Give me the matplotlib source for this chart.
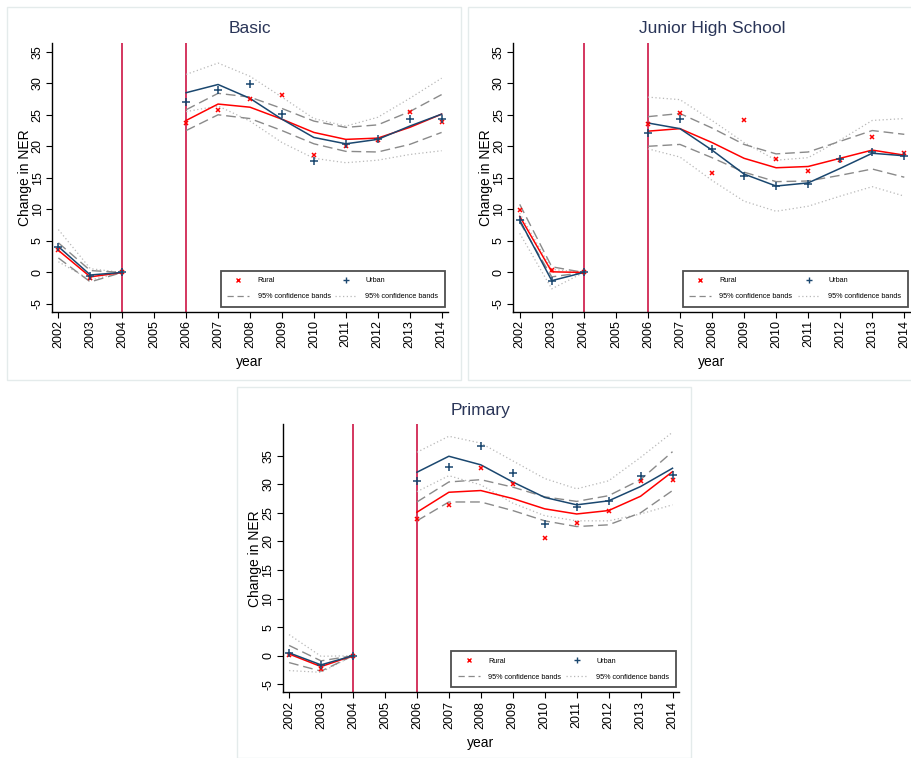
import numpy as np
import matplotlib
matplotlib.use("Agg")
import matplotlib.pyplot as plt
from matplotlib.lines import Line2D
from matplotlib.patches import Rectangle

plt.rcParams['font.family'] = ['Liberation Sans', 'DejaVu Sans']

years = [2002, 2003, 2004, 2005, 2006, 2007, 2008, 2009, 2010, 2011, 2012, 2013, 2014]
nan = np.nan

# ---- Basic ----
basic_rural_fit = [3.5, -0.7, 0, nan, 24.1, 26.7, 26.2, 24.3, 22.2, 21.1, 21.3, 23.0, 25.1]
basic_urban_fit = [4.1, -0.4, 0, nan, 28.5, 29.8, 27.6, 24.3, 21.4, 20.4, 21.1, 23.2, 25.1]
basic_rural_pts = [3.6, -0.95, 0, nan, 23.7, 25.8, 27.5, 28.2, 18.7, 20.1, 21.0, 25.4, 23.9]
basic_urban_pts = [4.0, -0.6, 0, nan, 27.1, 29.0, 29.9, 25.2, 17.6, 20.4, 21.2, 24.3, 24.4]
basic_rural_hi = [4.7, 0.3, 0, nan, 25.8, 28.4, 27.8, 26.0, 24.0, 23.0, 23.4, 25.5, 28.2]
basic_rural_lo = [2.3, -1.5, 0, nan, 22.5, 25.0, 24.4, 22.5, 20.4, 19.2, 19.1, 20.3, 22.2]
basic_urban_hi = [6.8, 0.6, 0, nan, 31.4, 33.2, 31.1, 27.8, 24.4, 23.2, 24.6, 27.6, 30.8]
basic_urban_lo = [1.7, -1.2, 0, nan, 25.5, 26.4, 24.0, 20.6, 18.1, 17.4, 17.8, 18.7, 19.3]

# ---- Junior High School ----
jhs_rural_fit = [8.9, 0.1, 0, nan, 22.4, 22.8, 20.6, 18.1, 16.6, 16.8, 18.1, 19.4, 18.6]
jhs_urban_fit = [8.3, -1.3, 0, nan, 23.7, 22.8, 19.4, 15.6, 13.7, 14.2, 16.5, 18.9, 18.5]
jhs_rural_pts = [9.9, 0.4, 0, nan, 23.6, 25.3, 15.7, 24.1, 18.0, 16.1, 17.8, 21.5, 18.9]
jhs_urban_pts = [8.3, -1.3, 0, nan, 22.1, 24.4, 19.6, 15.3, 13.7, 14.0, 18.0, 19.1, 18.5]
jhs_rural_hi = [10.8, 0.9, 0, nan, 24.7, 25.2, 22.9, 20.3, 18.8, 19.1, 20.8, 22.5, 21.9]
jhs_rural_lo = [8.0, -0.7, 0, nan, 20.0, 20.3, 18.2, 15.9, 14.4, 14.5, 15.4, 16.4, 15.1]
jhs_urban_hi = [9.4, 0.5, 0, nan, 27.8, 27.4, 24.1, 20.6, 17.8, 18.2, 21.0, 24.1, 24.4]
jhs_urban_lo = [6.2, -2.6, 0, nan, 19.6, 18.3, 14.6, 11.3, 9.7, 10.5, 12.1, 13.6, 12.1]

# ---- Primary ----
prim_rural_fit = [0.3, -1.9, 0, nan, 25.1, 28.6, 28.9, 27.5, 25.7, 24.8, 25.4, 27.9, 32.2]
prim_urban_fit = [0.5, -1.6, 0, nan, 32.1, 34.9, 33.4, 30.4, 27.7, 26.4, 27.1, 29.6, 32.8]
prim_rural_pts = [0.2, -2.3, 0, nan, 24.0, 26.3, 32.8, 30.1, 20.6, 23.3, 25.4, 30.5, 30.7]
prim_urban_pts = [0.4, -1.7, 0, nan, 30.6, 33.0, 36.7, 31.9, 23.0, 26.1, 27.0, 31.4, 31.6]
prim_rural_hi = [1.8, -0.9, 0, nan, 26.9, 30.4, 30.8, 29.5, 27.8, 27.0, 28.0, 30.8, 35.7]
prim_rural_lo = [-1.2, -2.7, 0, nan, 23.6, 26.9, 26.9, 25.4, 23.6, 22.6, 22.9, 25.0, 28.9]
prim_urban_hi = [3.7, -0.1, 0, nan, 35.6, 38.4, 37.2, 34.1, 31.0, 29.2, 30.6, 34.7, 39.1]
prim_urban_lo = [-2.6, -2.9, 0, nan, 28.7, 31.5, 29.9, 26.7, 24.5, 23.6, 23.6, 24.8, 26.4]

titles = ["Basic", "Junior High School", "Primary"]
vlines = [2004, 2006]
yticks = [-5, 0, 5, 10, 15, 20, 25, 30, 35]
legend_labels = ["Rural", "95% confidence bands", "Urban", "95% confidence bands"]

NAVY = "#1a476f"
RED = "#ff0000"
VCOL = "#d4365f"
TITLE_COL = "#2a3558"

W, H = 912, 758
fig = plt.figure(figsize=(W / 100, H / 100), dpi=100)

# panel frames (pixels: x0, y0, x1, y1)
frames = [(7, 7, 461, 380), (468, 7, 912, 380), (237, 387, 691, 758)]
for (x0, y0, x1, y1) in frames:
    fig.patches.append(Rectangle((x0 / W, 1 - y1 / H), (x1 - x0) / W, (y1 - y0) / H,
                                 transform=fig.transFigure, fill=False,
                                 edgecolor="#e4ebeb", linewidth=1.0))

# axes positions in pixels: left, right, top, bottom
axes_px = [(52, 448, 43, 312), (513.3, 910.7, 43, 312), (282.7, 678.9, 424.3, 692.3)]
ylims = [(-6.27, 36.38), (-6.27, 36.38), (-6.4, 40.49)]

panels = [
    (basic_rural_fit, basic_urban_fit, basic_rural_pts, basic_urban_pts,
     basic_rural_hi, basic_rural_lo, basic_urban_hi, basic_urban_lo),
    (jhs_rural_fit, jhs_urban_fit, jhs_rural_pts, jhs_urban_pts,
     jhs_rural_hi, jhs_rural_lo, jhs_urban_hi, jhs_urban_lo),
    (prim_rural_fit, prim_urban_fit, prim_rural_pts, prim_urban_pts,
     prim_rural_hi, prim_rural_lo, prim_urban_hi, prim_urban_lo),
]

x = np.array(years, dtype=float)

for i, (data, (l, r, t, b), yl, title) in enumerate(zip(panels, axes_px, ylims, titles)):
    rfit, ufit, rpts, upts, rhi, rlo, uhi, ulo = [np.array(d, dtype=float) for d in data]
    ax = fig.add_axes([l / W, 1 - b / H, (r - l) / W, (b - t) / H])
    for v in vlines:
        ax.axvline(v, color=VCOL, lw=1.4, zorder=1)
    ax.plot(x, uhi, color="#b8b8b8", lw=0.9, ls=(0, (1, 2)), zorder=2)
    ax.plot(x, ulo, color="#b8b8b8", lw=0.9, ls=(0, (1, 2)), zorder=2)
    ax.plot(x, rhi, color="#8a8a8a", lw=1.0, ls=(0, (7, 3.5)), zorder=2)
    ax.plot(x, rlo, color="#8a8a8a", lw=1.0, ls=(0, (7, 3.5)), zorder=2)
    ax.plot(x, rfit, color=RED, lw=1.1, zorder=3)
    ax.plot(x, ufit, color=NAVY, lw=1.1, zorder=3)
    ax.plot(x, rpts, ls="none", marker="x", color=RED, ms=3.5, mew=1.1, zorder=4)
    ax.plot(x, upts, ls="none", marker="+", color=NAVY, ms=5.5, mew=1.1, zorder=4)

    ax.set_xlim(years[0] - 0.2, years[-1] + 0.2)
    ax.set_ylim(*yl)
    ax.set_xticks(years)
    ax.set_xticklabels([str(y) for y in years], rotation=90, fontsize=9)
    ax.set_yticks(yticks)
    ax.set_yticklabels([str(v) for v in yticks], rotation=90, fontsize=9, va="center")
    ax.tick_params(axis="both", direction="out", length=4, width=0.8, pad=2)
    for s in ["top", "right"]:
        ax.spines[s].set_visible(False)
    for s in ["left", "bottom"]:
        ax.spines[s].set_linewidth(1.0)
    ax.set_xlabel("year", fontsize=10, labelpad=5)
    ax.set_ylabel("Change in NER", fontsize=10, labelpad=0)
    ax.set_title(title, fontsize=12.5, color=TITLE_COL, pad=7)

    handles = [
        Line2D([], [], ls="none", marker="x", color=RED, ms=3, mew=1.0),
        Line2D([], [], color="#8a8a8a", lw=0.9, ls=(0, (5, 3))),
        Line2D([], [], ls="none", marker="+", color=NAVY, ms=4.5, mew=1.0),
        Line2D([], [], color="#b8b8b8", lw=0.9, ls=(0, (1, 2))),
    ]
    leg = ax.legend(handles, legend_labels, ncol=2, loc="lower left",
                    bbox_to_anchor=(0.426, 0.019, 0.566, 0.137), mode="expand",
                    borderaxespad=0, fontsize=5.2, frameon=True, fancybox=False,
                    edgecolor="#222222", handlelength=3.0, handletextpad=1.2,
                    labelspacing=1.25, borderpad=0.9, columnspacing=2.0)
    leg.get_frame().set_linewidth(1.3)

fig.savefig("out.png", dpi=100)
